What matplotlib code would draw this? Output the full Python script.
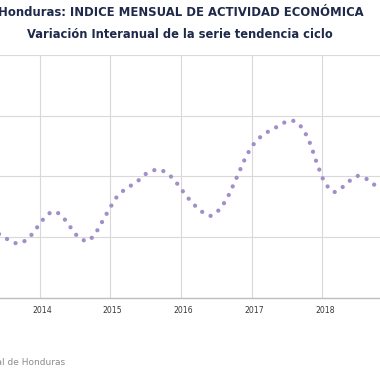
import numpy as np
import matplotlib.pyplot as plt

# Variacion interanual (%) de la serie tendencia ciclo, mensual jun-2013 a nov-2018
valores = [3.06, 3.00, 2.94, 2.90, 2.91, 2.97, 3.08,
           3.22, 3.34, 3.42, 3.41, 3.33, 3.20, 3.06, 2.97, 2.93, 3.00, 3.14, 3.32,
           3.49, 3.65, 3.75, 3.82, 3.88, 3.95, 4.04, 4.09, 4.12, 4.09, 4.03, 3.93,
           3.80, 3.67, 3.56, 3.46, 3.39, 3.35, 3.40, 3.51, 3.67, 3.88, 4.10, 4.32,
           4.49, 4.61, 4.69, 4.75, 4.80, 4.86, 4.91, 4.92, 4.87, 4.74, 4.53, 4.24,
           3.98, 3.82, 3.74, 3.79, 3.87, 3.96, 4.01, 3.99, 3.93, 3.85, 3.76]
inicio = 2013 + 5 / 12  # junio 2013
fechas = inicio + np.arange(len(valores)) / 12
anios = [2014, 2015, 2016, 2017, 2018]

titulo1 = 'Honduras: INDICE MENSUAL DE ACTIVIDAD ECONÓMICA'
titulo2 = 'Variación Interanual de la serie tendencia ciclo'
fuente = 'Fuente: Banco Central de Honduras'

plt.rcParams['lines.scale_dashes'] = False

fig = plt.figure(figsize=(3.8, 3.8), dpi=100)
ax = fig.add_axes([-0.0355, 0.2158, 1.0697, 0.6395])

ax.plot(fechas, valores, color='#a28ec8', lw=3.1,
        linestyle=(0, (0.01, 6.8)), dash_capstyle='round', clip_on=False)

ax.set_xlim(2013.25, 2019.0)
ax.set_ylim(2, 6)
ax.set_yticks([2, 3, 4, 5, 6])
ax.set_yticklabels([])
ax.set_xticks(anios)
ax.set_xticklabels([])
ax.set_xticks([a + 0.035 for a in anios], minor=True)
ax.set_xticklabels([str(a) for a in anios], minor=True, fontsize=5.6, color='#383838')
ax.tick_params(axis='both', which='both', length=0)
ax.tick_params(axis='x', which='minor', pad=6)
ax.grid(True, which='major', color='#d9d9d9', lw=0.8)
ax.set_axisbelow(True)
for s in ['top', 'left', 'right']:
    ax.spines[s].set_visible(False)
ax.spines['bottom'].set_color('#bfbfbf')
ax.spines['bottom'].set_linewidth(1.0)

fig.text(0.477, 0.966, titulo1, ha='center', va='center', fontsize=8.4,
         fontweight='bold', color='#1f2a4a')
fig.text(0.473, 0.908, titulo2, ha='center', va='center', fontsize=8.3,
         fontweight='bold', color='#1f2a4a')
fig.text(0.171, 0.045, fuente, ha='right', va='center', fontsize=6.5, color='#8c8c8c')

fig.savefig('out.png', dpi=100)
